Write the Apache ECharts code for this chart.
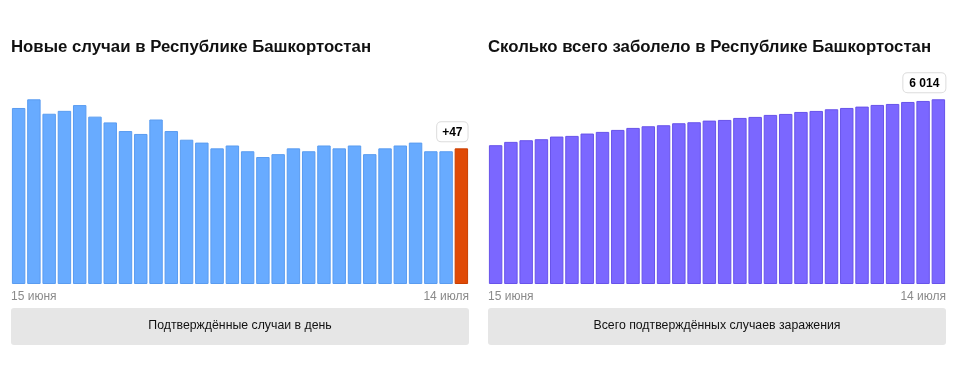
<!DOCTYPE html>
<html>
<head>
<meta charset="utf-8">
<script src="https://cdn.jsdelivr.net/npm/echarts@6/dist/echarts.min.js"></script>
<style>
html,body{margin:0;padding:0;background:#fff;}
#c{width:960px;height:373px;}
</style>
</head>
<body>
<div id="c"></div>
<script>
var days = ['15 июня','16 июня','17 июня','18 июня','19 июня','20 июня','21 июня','22 июня','23 июня','24 июня','25 июня','26 июня','27 июня','28 июня','29 июня','30 июня','1 июля','2 июля','3 июля','4 июля','5 июля','6 июля','7 июля','8 июля','9 июля','10 июля','11 июля','12 июля','13 июля','14 июля'];
var newCases = [61,64,59,60,62,58,56,53,52,57,53,50,49,47,48,46,44,45,47,46,48,47,48,45,47,48,49,46,46,47];
var totalCases = [4519,4627,4681,4714,4800,4822,4898,4952,5017,5082,5136,5169,5234,5266,5320,5342,5407,5440,5505,5537,5602,5635,5689,5732,5776,5830,5862,5927,5960,6014];
var titleLeft = 'Новые случаи в Республике Башкортостан';
var titleRight = 'Сколько всего заболело в Республике Башкортостан';
var captionLeft = 'Подтверждённые случаи в день';
var captionRight = 'Всего подтверждённых случаев заражения';

var FONT = '"Liberation Sans", Arial, sans-serif';
var chart = echarts.init(document.getElementById('c'), null, {renderer:'canvas'});

function fmt(v){ return String(v).replace(/\B(?=(\d{3})+(?!\d))/g, ' '); }

var leftData = newCases.map(function(v,i){
  if(i === newCases.length-1){
    return {value:v, itemStyle:{color:'#e04a06', borderColor:'#c93f00'},
      label:{show:true, position:'top', formatter:function(p){return '+'+p.value;}, offset:[-9,-2],
        backgroundColor:'#fff', borderColor:'#dcdcdc', borderWidth:1, borderRadius:4,
        padding:[4,5,3,5], fontWeight:'bold', fontSize:12, color:'#000', fontFamily:FONT}};
  }
  return v;
});
var rightData = totalCases.map(function(v,i){
  if(i === totalCases.length-1){
    return {value:v,
      label:{show:true, position:'top', formatter:function(p){return fmt(p.value);}, offset:[-14,-2],
        backgroundColor:'#fff', borderColor:'#dcdcdc', borderWidth:1, borderRadius:4,
        padding:[4,6,3,6], fontWeight:'bold', fontSize:12, color:'#000', fontFamily:FONT}};
  }
  return v;
});

function labelAxis(g){
  return {type:'category', gridIndex:g, data:days, boundaryGap:false, position:'bottom',
    axisLine:{show:false}, axisTick:{show:false}, splitLine:{show:false},
    axisLabel:{interval:28, margin:7, color:'#8a8a8a', fontSize:12, fontFamily:FONT,
      alignMinLabel:'left', alignMaxLabel:'right', showMinLabel:true, showMaxLabel:true}};
}
function barAxis(g){
  return {type:'category', gridIndex:g, data:days, boundaryGap:true,
    axisLine:{show:false}, axisTick:{show:false}, axisLabel:{show:false}, splitLine:{show:false}};
}

chart.setOption({
  animation:false,
  title:[
    {text:titleLeft, left:11, top:39, padding:0, textStyle:{fontSize:16.8, fontWeight:'bold', color:'#111', fontFamily:FONT}},
    {text:titleRight, left:488, top:39, padding:0, textStyle:{fontSize:16.8, fontWeight:'bold', color:'#111', fontFamily:FONT}}
  ],
  grid:[
    {left:11, right:491, top:82, bottom:89, containLabel:false},
    {left:488, right:14, top:69, bottom:89, containLabel:false}
  ],
  xAxis:[barAxis(0), barAxis(1), labelAxis(0), labelAxis(1)],
  yAxis:[
    {type:'value', gridIndex:0, min:0, max:70, show:false},
    {type:'value', gridIndex:1, min:0, max:7000, show:false}
  ],
  series:[
    {type:'bar', xAxisIndex:0, yAxisIndex:0, data:leftData, barCategoryGap:'12%',
      itemStyle:{color:'#68abff', borderColor:'#5a9cf0', borderWidth:1}},
    {type:'bar', xAxisIndex:1, yAxisIndex:1, data:rightData, barCategoryGap:'12%',
      itemStyle:{color:'#7b67ff', borderColor:'#6853ea', borderWidth:1}}
  ],
  graphic:[
    {type:'rect', left:11, top:308, shape:{width:458, height:37, r:3}, style:{fill:'#e6e6e6'}},
    {type:'text', x:240, y:326, style:{text:captionLeft, fontSize:12.3, fontFamily:FONT, fill:'#111', align:'center', verticalAlign:'middle'}},
    {type:'rect', left:488, top:308, shape:{width:458, height:37, r:3}, style:{fill:'#e6e6e6'}},
    {type:'text', x:717, y:326, style:{text:captionRight, fontSize:12.3, fontFamily:FONT, fill:'#111', align:'center', verticalAlign:'middle'}}
  ]
});
</script>
</body>
</html>
